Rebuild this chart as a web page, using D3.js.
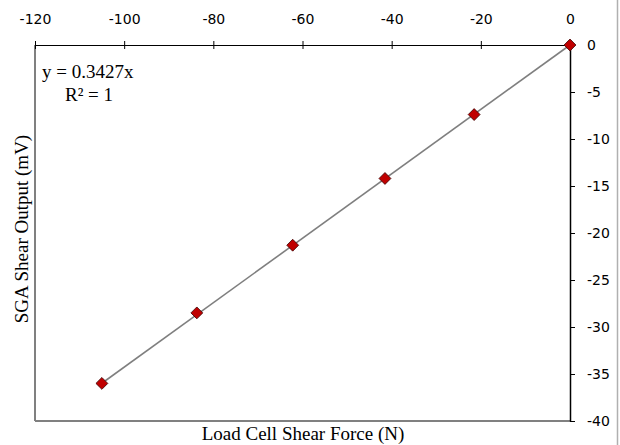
<!DOCTYPE html>
<html><head><meta charset="utf-8">
<script src="https://cdn.jsdelivr.net/npm/d3@7"></script>
<style>html,body{margin:0;padding:0;background:#fff;}</style>
</head><body>
<svg id="chart" width="620" height="445"></svg>
<script>
const forceN = [-105.0, -83.7, -62.2, -41.5, -21.5, 0];
const outputMV = [-36.0, -28.5, -21.3, -14.2, -7.4, 0];
const xTicks = [-120, -100, -80, -60, -40, -20, 0];
const yTicks = [0, -5, -10, -15, -20, -25, -30, -35, -40];
const slope = 0.3427;
const eqLabel = "y = 0.3427x";
const r2Label = "R² = 1";

const svg = d3.select("#chart");
const L = 35, R = 570, T = 45, B = 421;
const x = d3.scaleLinear().domain([-120, 0]).range([L, R]);
const y = d3.scaleLinear().domain([0, -40]).range([T, B]);
const fmt = d => String(d);  // plain hyphen-minus
const sansFont = "'DejaVu Sans', Tahoma, sans-serif";
const serifFont = "'Liberation Serif', 'Times New Roman', serif";

svg.append("rect").attr("width",620).attr("height",445).attr("fill","#fff");
svg.append("line").attr("x1",617.5).attr("x2",617.5).attr("y1",0).attr("y2",445)
  .attr("stroke","#b0b0b0").attr("stroke-width",1.5);

// plot frame (left & bottom gray)
svg.append("line").attr("x1",L).attr("x2",L).attr("y1",T).attr("y2",B).attr("stroke","#808080").attr("stroke-width",2);
svg.append("line").attr("x1",L).attr("x2",R).attr("y1",B).attr("y2",B).attr("stroke","#808080").attr("stroke-width",2);

// top axis
const xAxis = d3.axisTop(x).tickValues(xTicks).tickSize(0).tickPadding(21).tickFormat(fmt);
const gx = svg.append("g").attr("transform",`translate(0,${T})`).call(xAxis);
gx.select(".domain").attr("stroke","#000").attr("stroke-width",1.2);
gx.selectAll(".tick line").remove();
gx.selectAll(".tick").append("line").attr("y1",-4).attr("y2",4).attr("stroke","#000");
gx.selectAll("text").attr("font-family",sansFont).attr("font-size",14).attr("fill","#000");

// right axis
const yAxis = d3.axisRight(y).tickValues(yTicks).tickSize(0).tickPadding(17).tickFormat(fmt);
const gy = svg.append("g").attr("transform",`translate(${R},0)`).call(yAxis);
gy.select(".domain").attr("stroke","#000").attr("stroke-width",1.5);
gy.selectAll(".tick line").remove();
gy.selectAll(".tick").append("line").attr("x1",0).attr("x2",5).attr("stroke","#000");
gy.selectAll("text").attr("font-family",sansFont).attr("font-size",14).attr("fill","#000");

// trendline
svg.append("line")
  .attr("x1", x(d3.min(forceN))).attr("y1", y(slope*d3.min(forceN)))
  .attr("x2", x(0)).attr("y2", y(0))
  .attr("stroke","#7f7f7f").attr("stroke-width",1.6);

// markers
svg.selectAll("path.pt").data(forceN.map((f,i)=>[f,outputMV[i]])).enter()
  .append("path").attr("class","pt")
  .attr("d", d3.symbol().type(d3.symbolDiamond2).size(90)())
  .attr("transform", d=>`translate(${x(d[0])},${y(d[1])})`)
  .attr("fill","#c00000").attr("stroke","#3a0000").attr("stroke-width",0.8);

// equation
svg.append("text").attr("x",42).attr("y",78).text(eqLabel)
  .attr("font-family",serifFont).attr("font-size",19);
svg.append("text").attr("x",65).attr("y",101).text(r2Label)
  .attr("font-family",serifFont).attr("font-size",19);

// axis titles
svg.append("text").attr("x",303).attr("y",440).attr("text-anchor","middle")
  .text("Load Cell Shear Force (N)")
  .attr("font-family",serifFont).attr("font-size",19);
svg.append("text").attr("transform",`translate(28,${(T+B)/2 - 4}) rotate(-90)`).attr("text-anchor","middle")
  .text("SGA Shear Output (mV)")
  .attr("font-family",serifFont).attr("font-size",19);
</script>
</body></html>
